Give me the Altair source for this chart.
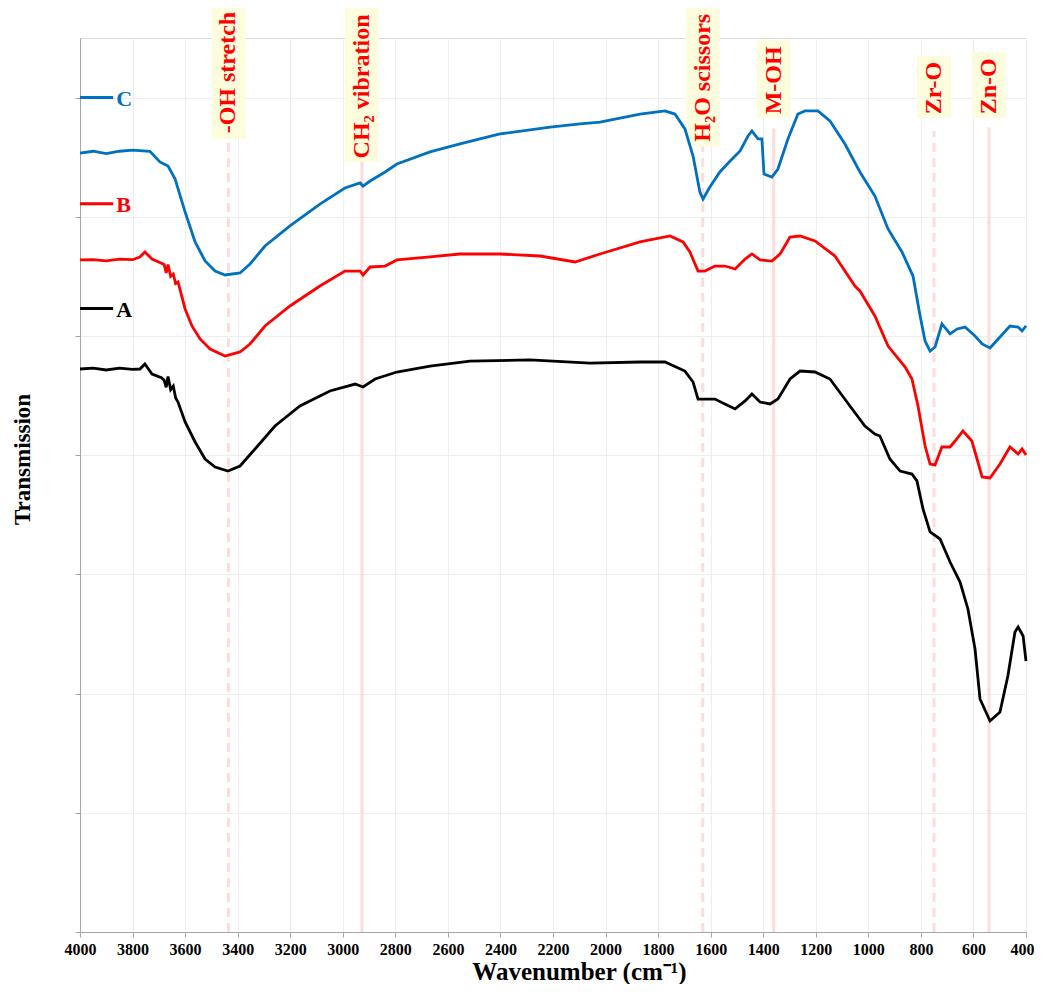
import altair as alt
import pandas as pd

# ---------------- data ----------------
wn_A = [4000, 3950, 3900, 3850, 3800, 3772, 3753, 3726, 3690, 3680, 3672, 3665, 3655, 3645,
        3636, 3627, 3600, 3562, 3524,
        3486, 3437, 3391, 3334, 3258, 3163, 3049, 2953, 2923, 2877, 2794, 2668, 2516, 2288,
        2059, 1869, 1774, 1698, 1667, 1648, 1622, 1584, 1546, 1507, 1469, 1443, 1412, 1374,
        1344, 1298, 1260, 1203, 1146, 1070, 1013, 975, 956, 918, 879, 834, 815, 792, 765,
        727, 689, 651, 621, 594, 575, 537, 499, 469, 442, 430, 411, 400]
tr_A = [4.723, 4.73, 4.715, 4.73, 4.72, 4.723, 4.765, 4.681, 4.65, 4.63, 4.57, 4.66, 4.55, 4.58,
        4.48, 4.446, 4.279, 4.111, 3.968,
        3.901, 3.867, 3.909, 4.052, 4.245, 4.413, 4.539, 4.597, 4.572, 4.639, 4.698, 4.748, 4.790, 4.799,
        4.773, 4.782, 4.782, 4.706, 4.614, 4.471, 4.471, 4.471, 4.430, 4.388, 4.455, 4.513, 4.446, 4.430,
        4.471, 4.639, 4.706, 4.698, 4.639, 4.413, 4.245, 4.178, 4.161, 3.968, 3.867, 3.842, 3.784, 3.549, 3.356,
        3.297, 3.104, 2.936, 2.710, 2.374, 1.955, 1.770, 1.846, 2.148, 2.517, 2.559, 2.483, 2.273]

wn_B = [4000, 3950, 3900, 3850, 3800, 3772, 3753, 3726, 3690, 3680, 3672, 3665, 3655, 3645,
        3636, 3627, 3600, 3574, 3543,
        3505, 3448, 3391, 3353, 3296, 3201, 3087, 2992, 2934, 2923, 2896, 2839, 2794, 2668,
        2554, 2402, 2249, 2116, 2021, 1869, 1755, 1705, 1679, 1648, 1622, 1584, 1546, 1507,
        1469, 1443, 1412, 1367, 1336, 1298, 1260, 1203, 1127, 1051, 1032, 975, 925, 860,
        834, 811, 784, 765, 746, 720, 689, 670, 640, 606, 583, 567, 537, 499, 461, 430, 415, 400]
tr_B = [5.638, 5.64, 5.63, 5.645, 5.64, 5.663, 5.705, 5.646, 5.61, 5.60, 5.53, 5.60, 5.50, 5.52,
        5.44, 5.453, 5.227, 5.084, 4.975,
        4.891, 4.832, 4.866, 4.933, 5.084, 5.252, 5.419, 5.545, 5.545, 5.512, 5.579, 5.587, 5.638, 5.663,
        5.688, 5.688, 5.671, 5.621, 5.688, 5.789, 5.839, 5.789, 5.705, 5.545, 5.545, 5.587, 5.587, 5.562,
        5.646, 5.688, 5.638, 5.629, 5.688, 5.830, 5.839, 5.797, 5.671, 5.419, 5.378, 5.168, 4.916, 4.740,
        4.639, 4.413, 4.077, 3.926, 3.918, 4.069, 4.069, 4.119, 4.203, 4.119, 3.943, 3.817, 3.809, 3.926,
        4.069, 4.010, 4.052, 4.002]

wn_C = [4000, 3950, 3900, 3850, 3800, 3734, 3696, 3665, 3638, 3600, 3562, 3524, 3486, 3448,
        3391, 3353, 3296, 3201, 3087, 2992, 2934, 2923, 2896, 2839, 2794, 2668, 2554, 2402,
        2211, 2097, 2021, 1869, 1774, 1736, 1698, 1667, 1641, 1629, 1603, 1565, 1526, 1488,
        1458, 1443, 1420, 1405, 1397, 1367, 1344, 1306, 1268, 1241, 1192, 1146, 1089, 1032,
        975, 925, 872, 830, 803, 784, 765, 746, 720, 689, 662, 632, 594, 567, 537, 499, 461,
        430, 415, 400]
tr_C = [6.535, 6.55, 6.53, 6.55, 6.56, 6.55, 6.46, 6.426, 6.317, 6.040, 5.789, 5.629, 5.545, 5.512,
        5.529, 5.604, 5.755, 5.923, 6.107, 6.242, 6.284, 6.258, 6.300, 6.376, 6.443, 6.544, 6.611, 6.695,
        6.753, 6.779, 6.795, 6.862, 6.888, 6.862, 6.737, 6.510, 6.208, 6.149, 6.250, 6.376, 6.468, 6.552,
        6.678, 6.720, 6.653, 6.653, 6.359, 6.334, 6.401, 6.653, 6.862, 6.888, 6.888, 6.804, 6.611, 6.376,
        6.174, 5.898, 5.705, 5.503, 5.168, 4.958, 4.874, 4.908, 5.101, 5.017, 5.059, 5.075, 5.000, 4.933,
        4.899, 4.992, 5.084, 5.075, 5.042, 5.084]

series_names = ["A", "B", "C"]
series_colors = ["#000000", "#FF0000", "#0070C0"]
legend_level = [5.23, 6.11, 7.00]
legend_wn_start = 4000
legend_wn_end = 3874
legend_text_wn = 3862

peak_labels = ["-OH stretch", "CH₂ vibration", "H₂O scissors", "M-OH", "Zr-O", "Zn-O"]
peak_wn = [3435, 2927, 1630, 1360, 750, 541]
peak_dashed = [True, False, True, False, True, False]
peak_text_base = [6.70, 6.49, 6.63, 6.86, 6.86, 6.86]
peak_box_low = [6.65, 6.46, 6.59, 6.83, 6.83, 6.83]
peak_box_high = [7.76, 7.76, 7.77, 7.48, 7.35, 7.38]
peak_line_top = [6.65, 6.46, 6.59, 6.74, 6.72, 6.75]
box_half_wn = 64

x_ticks = list(range(400, 4001, 200))
y_ticks = [0, 1, 2, 3, 4, 5, 6, 7]

# ---------------- tables ----------------
rows = []
for name, wns, trs in (("A", wn_A, tr_A), ("B", wn_B, tr_B), ("C", wn_C, tr_C)):
    for w, t in zip(wns, trs):
        rows.append({"series": name, "wn": w, "t": t})
spectra = pd.DataFrame(rows)

legend_df = pd.DataFrame({
    "series": series_names,
    "wn": [legend_wn_start] * 3,
    "wn2": [legend_wn_end] * 3,
    "wt": [legend_text_wn] * 3,
    "t": legend_level,
})

peaks = pd.DataFrame({
    "label": peak_labels,
    "wn": peak_wn,
    "dashed": peak_dashed,
    "tbase": peak_text_base,
    "blow": peak_box_low,
    "bhigh": peak_box_high,
    "ltop": peak_line_top,
})
peaks["wlo"] = peaks["wn"] + box_half_wn
peaks["whi"] = peaks["wn"] - box_half_wn
peaks["zero"] = 0.0

FONT = "Liberation Serif"

xscale = alt.Scale(domain=[400, 4000], reverse=True, nice=False, zero=False)
yscale = alt.Scale(domain=[0, 7.5], nice=False, zero=False)

xaxis = alt.Axis(values=x_ticks, title="Wavenumber (cm⁻¹)", format="d",
                 labelFont=FONT, labelFontSize=16, labelFontWeight="bold", labelColor="#000000",
                 labelPadding=4, tickSize=5, tickColor="#a6a6a6", labelFlush=False,
                 labelOffset={"condition": {"test": "datum.value === 400", "value": -4}, "value": 0},
                 domainColor="#a6a6a6", gridColor="#eeeeee",
                 titleFont=FONT, titleFontSize=25, titleFontWeight="bold", titleColor="#000000",
                 titleX=499, titleY=47, titleBaseline="alphabetic")
yaxis = alt.Axis(values=y_ticks, title="Transmission", labels=False,
                 tickSize=5, tickColor="#a6a6a6", domainColor="#a6a6a6", gridColor="#eeeeee",
                 titleFont=FONT, titleFontSize=23, titleFontWeight="bold", titleColor="#000000",
                 titleX=-58, titleY=421, titleBaseline="middle", titleAngle=270)


def X(field):
    return alt.X(field, type="quantitative", scale=xscale, axis=xaxis)


def Y(field):
    return alt.Y(field, type="quantitative", scale=yscale, axis=yaxis)


color = alt.Color("series:N", scale=alt.Scale(domain=series_names, range=series_colors), legend=None)

boxes = alt.Chart(peaks).mark_rect(color="#fdfcdc").encode(
    x=X("wlo"), x2="whi", y=Y("blow"), y2="bhigh")

rules_dashed = alt.Chart(peaks).transform_filter("datum.dashed").mark_rule(
    color="#fddcdc", strokeWidth=3, strokeDash=[9, 6]).encode(
    x=X("wn"), y=Y("zero"), y2="ltop")

rules_solid = alt.Chart(peaks).transform_filter("!datum.dashed").mark_rule(
    color="#fddcdc", strokeWidth=3).encode(
    x=X("wn"), y=Y("zero"), y2="ltop")

lines = alt.Chart(spectra).mark_line(strokeWidth=2.8, interpolate="linear").encode(
    x=X("wn"), y=Y("t"), color=color, detail="series:N")

peak_text = alt.Chart(peaks).mark_text(
    angle=270, align="left", baseline="middle", font=FONT, fontSize=24,
    fontWeight="bold", color="#FF0000").encode(
    x=X("wn"), y=Y("tbase"), text="label:N")

leg_lines = alt.Chart(legend_df).mark_rule(strokeWidth=3).encode(
    x=X("wn"), x2="wn2", y=Y("t"), color=color)

leg_text = alt.Chart(legend_df).mark_text(
    align="left", baseline="middle", font=FONT, fontSize=22, fontWeight="bold", dy=1).encode(
    x=X("wt"), y=Y("t"), text="series:N", color=color)

chart = alt.layer(boxes, rules_dashed, rules_solid, lines, peak_text, leg_lines, leg_text).properties(
    width=946, height=894,
    autosize=alt.AutoSizeParams(type="none"),
    padding={"left": 72, "top": 30, "right": 8, "bottom": 52},
).configure_view(stroke="#d9d9d9").configure_axis(gridWidth=1)

chart.save("out.html", embed_options={"renderer": "svg", "actions": False})
